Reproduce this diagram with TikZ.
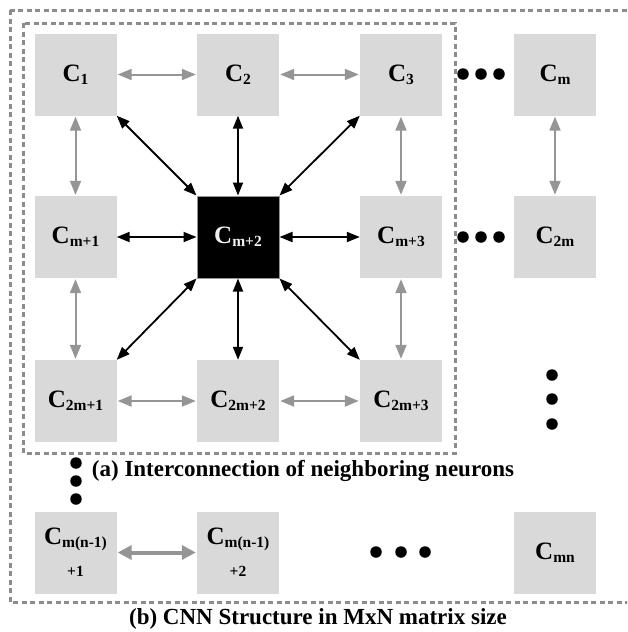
\documentclass[tikz,border=0pt]{standalone}
\usepackage{fontspec}
\setmainfont{Liberation Serif}
\usetikzlibrary{arrows.meta}
\definecolor{boxgray}{HTML}{D9D9D9}
\definecolor{linegray}{HTML}{959595}
\definecolor{framegray}{HTML}{8C8C8C}
\newcommand{\cellsub}[1]{\raisebox{-0.25ex}{\fontsize{15.5}{15.5}\selectfont #1}}
\begin{document}
\begin{tikzpicture}[x=1pt,y=-1pt,
  cell/.style={fill=boxgray,minimum width=82pt,minimum height=82pt,inner sep=0pt,align=center,font=\fontsize{25}{25}\selectfont\bfseries},
  centercell/.style={cell,fill=black,draw=linegray,line width=1pt,text=white!88!gray},
  garrow/.style={linegray,line width=2pt,{Triangle[length=14pt,width=11pt]}-{Triangle[length=14pt,width=11pt]},shorten <=1pt,shorten >=1pt},
  barrow/.style={black,line width=1.8pt,{Triangle[length=13pt,width=10pt]}-{Triangle[length=13pt,width=10pt]}},
  frame/.style={framegray,line width=3pt,dash pattern=on 5pt off 3.5pt},
  dot/.style={circle,fill=black,inner sep=0pt,minimum size=11.5pt},
  captext/.style={font=\fontsize{23}{23}\selectfont\bfseries,inner sep=0pt}
]
\useasboundingbox (0,0) rectangle (627,632);
\begin{scope}
\clip (0,0) rectangle (627,632);
\draw[frame] (10,10) rectangle (640,602);
\end{scope}
\draw[frame] (23,23) rectangle (455,453);

\node[cell] (c1) at (75.5,74.5) {C\cellsub{1}};
\node[cell] (c2) at (238,74.5) {C\cellsub{2}};
\node[cell] (c3) at (401,74.5) {C\cellsub{3}};
\node[cell] (cm) at (555,74.5) {C\cellsub{m}};
\node[cell] (cm1) at (75.5,237) {C\cellsub{m+1}};
\node[centercell] (cm2) at (238,237) {C\cellsub{m+2}};
\node[cell] (cm3) at (401,237) {C\cellsub{m+3}};
\node[cell] (c2m) at (555,237) {C\cellsub{2m}};
\node[cell] (c2m1) at (75.5,401) {C\cellsub{2m+1}};
\node[cell] (c2m2) at (238,401) {C\cellsub{2m+2}};
\node[cell] (c2m3) at (401,401) {C\cellsub{2m+3}};
\node[cell] (cn1) at (75.5,552.5) {C\cellsub{m(n-1)}\\[7pt]{\fontsize{15.5}{15.5}\selectfont +1}};
\node[cell] (cn2) at (238,552.5) {C\cellsub{m(n-1)}\\[7pt]{\fontsize{15.5}{15.5}\selectfont +2}};
\node[cell] (cmn) at (555,552.5) {C\cellsub{mn}};

% gray arrows
\draw[garrow] (c1) -- (c2);
\draw[garrow] (c2) -- (c3);
\draw[garrow] (c1) -- (cm1);
\draw[garrow] (c3) -- (cm3);
\draw[garrow] (cm) -- (c2m);
\draw[garrow] (cm1) -- (c2m1);
\draw[garrow] (cm3) -- (c2m3);
\draw[garrow] (c2m1) -- (c2m2);
\draw[garrow] (c2m2) -- (c2m3);
\draw[garrow,line width=4pt,{Triangle[length=14pt,width=14pt]}-{Triangle[length=14pt,width=14pt]}] (cn1) -- (cn2);

% black arrows
\draw[barrow] (c1.south east) -- (cm2.north west);
\draw[barrow] (c2) -- (cm2);
\draw[barrow] (c3.south west) -- (cm2.north east);
\draw[barrow] (cm1) -- (cm2);
\draw[barrow] (cm3) -- (cm2);
\draw[barrow] (c2m1.north east) -- (cm2.south west);
\draw[barrow] (c2m2) -- (cm2);
\draw[barrow] (c2m3.north west) -- (cm2.south east);

% dots
\foreach \x/\n in {463/a,481/b,499/c} {
  \node[dot] (r1\n) at (\x,74) {};
  \node[dot] (r2\n) at (\x,237) {};
}
\foreach \y/\n in {375/a,399/b,424/c} \node[dot] (v4\n) at (552,\y) {};
\foreach \y/\n in {463/a,481/b,499/c} \node[dot] (v1\n) at (76,\y) {};
\foreach \x/\n in {376/a,401/b,425/c} \node[dot] (b4\n) at (\x,552) {};

\node[captext] (capa) at (303,471) {(a) Interconnection of neighboring neurons};
\node[captext] (capb) at (318,619) {(b) CNN Structure in MxN matrix size};
\end{tikzpicture}
\end{document}
